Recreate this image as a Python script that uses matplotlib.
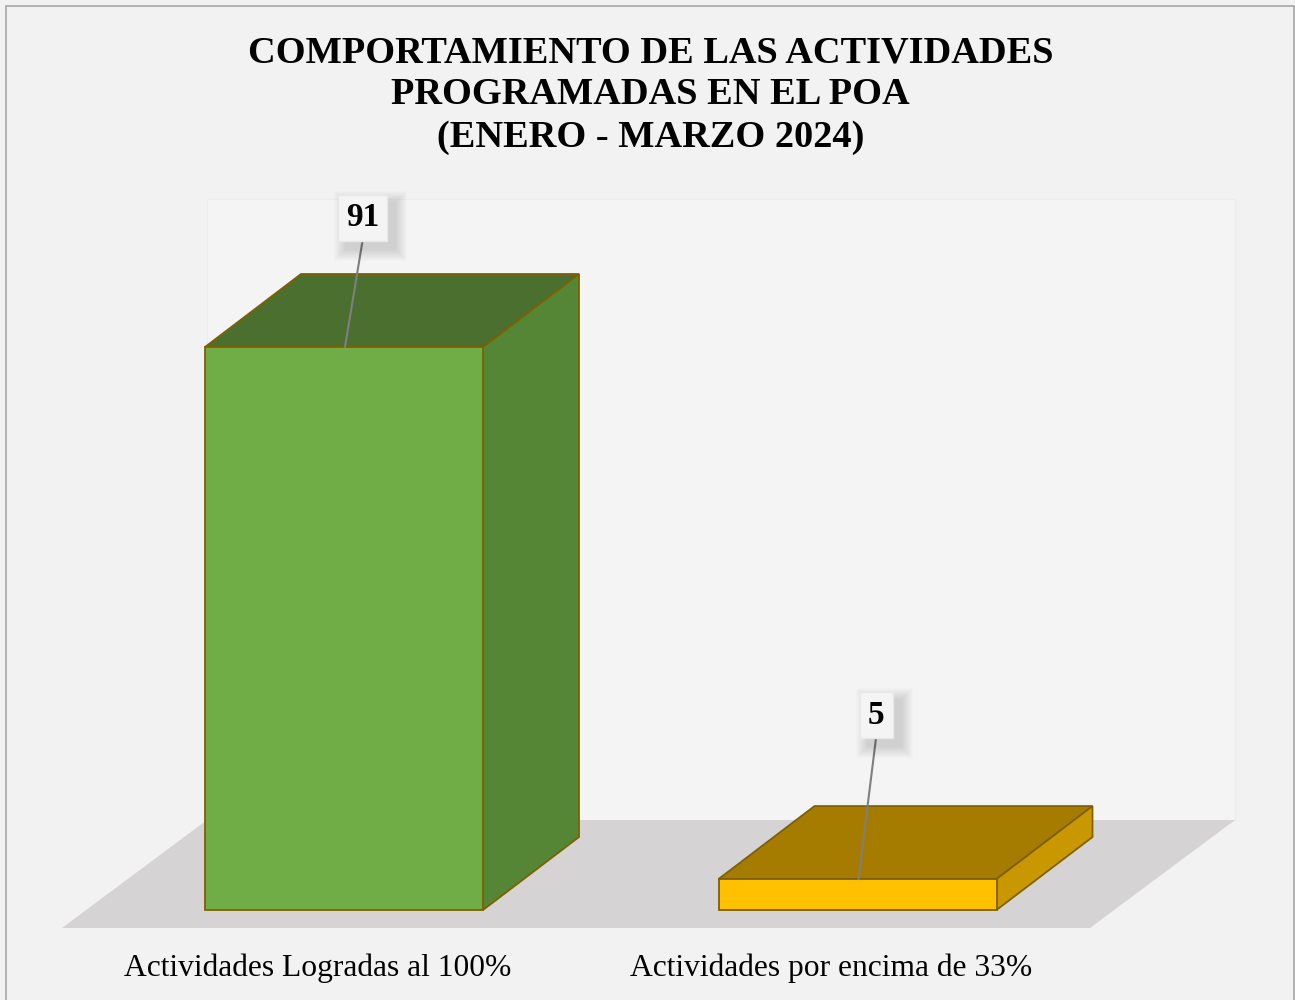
import matplotlib
matplotlib.use("Agg")
import matplotlib.pyplot as plt
from matplotlib.patches import Polygon, Rectangle

# ---- data ----
categories = ["Actividades Logradas al 100%", "Actividades por encima de 33%"]
values = [91, 5]
value_labels = ["91", "5"]
title = "COMPORTAMIENTO DE LAS ACTIVIDADES\nPROGRAMADAS EN EL POA\n(ENERO - MARZO 2024)"

# ---- styles ----
front_colors = ["#70ad47", "#ffc000"]
top_colors = ["#4a6f2f", "#a67c00"]
side_colors = ["#558636", "#c99800"]
edge_color = "#7f6000"
bg = "#f2f2f2"

W, H = 1295, 1000
fig = plt.figure(figsize=(W / 100, H / 100), dpi=100)
fig.patch.set_facecolor(bg)
ax = fig.add_axes([0, 0, 1, 1])
ax.set_axis_off()

# scale: value 0 at pixel row 910, value 91 at row 347
ppv = (910 - 347) / 91.0
pxc = 513.5          # pixels per category step
c0 = 344             # pixel x of first category centre
ax.set_ylim(-(H - 910) / ppv, 910 / ppv)
ax.set_xlim(-c0 / pxc, (W - c0) / pxc)

def dxu(p):
    return p / pxc

def dyu(p):
    return p / ppv

def P(px, py):
    return ((px - c0) / pxc, (910 - py) / ppv)

# back wall
wall = Polygon([P(207, 820), P(1235, 820), P(1235, 199), P(207, 199)],
               closed=True, facecolor="#f4f4f4", edgecolor="#ececec", lw=0.8, zorder=1)
ax.add_patch(wall)
# floor
floor = Polygon([P(62, 928), P(1090, 928), P(1235, 820), P(207, 820)],
                closed=True, facecolor="#d5d3d4", edgecolor="none", zorder=2)
ax.add_patch(floor)

bw = dxu(278)
ddx, ddy = dxu(96), dyu(73)
for i, v in enumerate(values):
    l, r = i - bw / 2, i + bw / 2
    top = Polygon([(l, v), (r, v), (r + ddx, v + ddy), (l + ddx, v + ddy)], closed=True,
                  facecolor=top_colors[i], edgecolor=edge_color, lw=1.3, zorder=3)
    side = Polygon([(r, 0), (r + ddx, ddy), (r + ddx, v + ddy), (r, v)], closed=True,
                   facecolor=side_colors[i], edgecolor=edge_color, lw=1.3, zorder=3)
    front = Rectangle((l, 0), bw, v, facecolor=front_colors[i], edgecolor=edge_color,
                      lw=1.3, zorder=4)
    ax.add_patch(top)
    ax.add_patch(side)
    ax.add_patch(front)

# data labels with leader lines
label_dx = [18.5, 18.5]   # px offsets of label box from bar centre
label_dy = [129, 164]     # px above front top
leader_end_dx = [1, 1]
box_w = [49, 33]
box_h = [46, 46]
for i, v in enumerate(values):
    bx = i + dxu(label_dx[i])
    by = v + dyu(label_dy[i])
    # leader
    ax.plot([bx, i + dxu(leader_end_dx[i])], [by - dyu(box_h[i] / 2), v],
            color="#7f7f7f", lw=1.5, zorder=6)
    # soft shadow
    n = 12
    for k in range(n):
        g = 24 - 2 * k
        sh = Rectangle((bx - dxu(box_w[i] / 2) + dxu(8) - dxu(g / 2),
                        by - dyu(box_h[i] / 2) - dyu(8) - dyu(g / 2)),
                       dxu(box_w[i] + g), dyu(box_h[i] + g),
                       facecolor="#000000", alpha=0.013, edgecolor="none", zorder=7)
        ax.add_patch(sh)
    box = Rectangle((bx - dxu(box_w[i] / 2), by - dyu(box_h[i] / 2)),
                    dxu(box_w[i]), dyu(box_h[i]),
                    facecolor="#f4f4f4", edgecolor="#e8e8e8", lw=1, zorder=8)
    ax.add_patch(box)
    ax.text(bx, by, value_labels[i], ha="center", va="center", fontsize=24,
            fontweight="bold", family="Liberation Serif", color="black", zorder=9)

# category labels
for i, c in enumerate(categories):
    x, y = P(c0 + pxc * i - 26, 968)
    ax.text(x, y, c, ha="center", va="center", fontsize=22.7,
            family="Liberation Serif", color="black", zorder=9)

# title
fig.text(650.5 / W, 1 - 95 / H, title, ha="center", va="center", fontsize=27.6,
         fontweight="bold", family="Liberation Serif", linespacing=1.27)

# outer border
fig.patches.append(Rectangle((6 / W, -0.01), (1294 - 6) / W, 1 - 6 / H + 0.01,
                             transform=fig.transFigure, fill=False,
                             edgecolor="#a6a6a6", lw=1.2))

fig.savefig("out.png", dpi=100, facecolor=bg)
